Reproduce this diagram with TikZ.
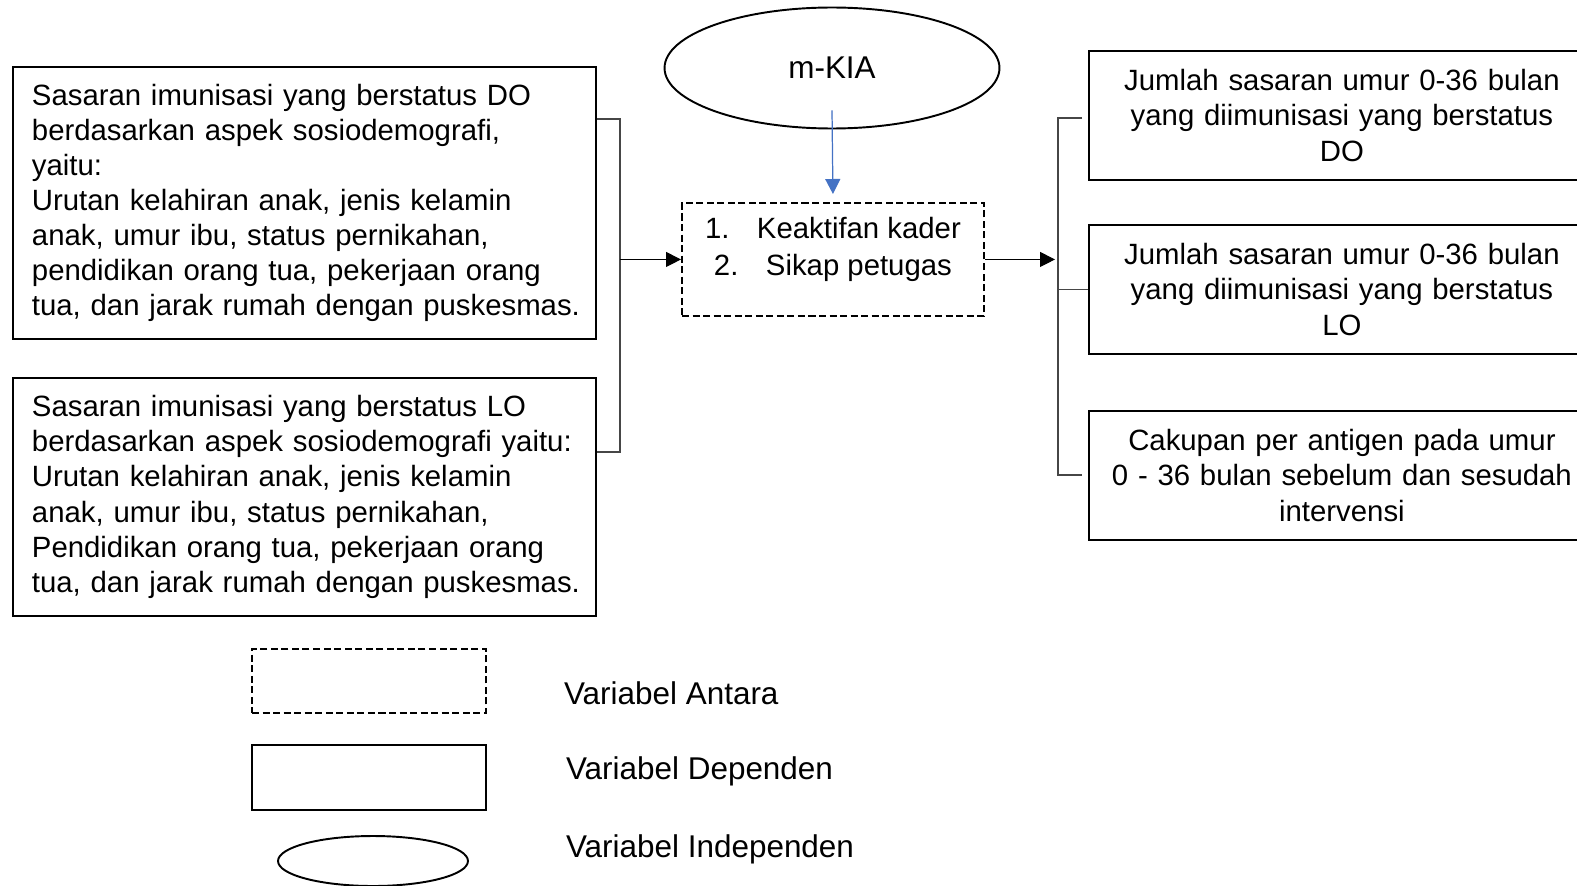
\documentclass[tikz,border=0pt]{standalone}
\usepackage{fontspec}
\setmainfont{Liberation Sans}
\usepackage{tikz}
\usetikzlibrary{shapes.geometric, arrows.meta, positioning, calc}
\usepackage{xcolor}
\definecolor{kiaBlue}{RGB}{68, 114, 196}
\definecolor{kiaGrey}{RGB}{70, 70, 70}

\begin{document}
\begin{tikzpicture}[
    x=0.02cm, y=-0.02cm,
    varbox/.style={
        rectangle,
        anchor=north west,
        draw=black,
        line width=1.1pt,
        font=\fontsize{16.7}{20}\selectfont
    },
    indepbox/.style={
        varbox,
        minimum width=11.66cm,
        text width=11.14cm,
        inner xsep=0.26cm,
        align=left
    },
    depbox/.style={
        varbox,
        minimum width=10.12cm,
        minimum height=2.58cm,
        text width=9.8cm,
        align=center
    },
    antarabox/.style={
        rectangle,
        draw=black,
        line width=1.1pt,
        dash pattern=on 4pt off 2pt
    },
    oval/.style={
        ellipse,
        draw=black,
        line width=1.1pt,
        font=\fontsize{17.9}{21}\selectfont
    },
    legendtext/.style={
        anchor=west,
        font=\fontsize{17.9}{21}\selectfont
    },
    arrow/.style={
        line width=0.6pt,
        -{Triangle[length=0.3cm, width=0.3cm]}
    },
    bracket/.style={
        draw=kiaGrey,
        line width=0.7pt
    }
]
\useasboundingbox (0,0) rectangle (1577,885);

% Left column - independent targets
\node[indepbox, minimum height=5.44cm] (do) at (12,66) {
    \hspace{0.12cm}Sasaran imunisasi yang berstatus DO\\
    \hspace{0.12cm}berdasarkan aspek sosiodemografi,\\
    \hspace{0.12cm}yaitu:\\
    \hspace{0.12cm}Urutan kelahiran anak, jenis kelamin\\
    \hspace{0.12cm}anak, umur ibu, status pernikahan,\\
    \hspace{0.12cm}pendidikan orang tua, pekerjaan orang\\
    \hspace{0.12cm}tua, dan jarak rumah dengan puskesmas.
};

\node[indepbox, minimum height=4.76cm] (lo) at (12,377) {
    \hspace{0.12cm}Sasaran imunisasi yang berstatus LO\\
    \hspace{0.12cm}berdasarkan aspek sosiodemografi yaitu:\\
    \hspace{0.12cm}Urutan kelahiran anak, jenis kelamin\\
    \hspace{0.12cm}anak, umur ibu, status pernikahan,\\
    \hspace{0.12cm}Pendidikan orang tua, pekerjaan orang\\
    \hspace{0.12cm}tua, dan jarak rumah dengan puskesmas.
};

% Middle - m-KIA and intervening variables
\node[oval, minimum width=6.7cm, minimum height=2.42cm] (mkia) at (832,68) {m-KIA};

\node[antarabox, anchor=north west, minimum width=6.04cm, minimum height=2.26cm] (antara) at (681,202) {};
\node[font=\fontsize{16.7}{20.8}\selectfont, align=center, yshift=0.2cm] (antaratext) at (antara.center) {
    1.\hspace{0.55cm}Keaktifan kader\\
    2.\hspace{0.55cm}Sikap petugas
};

% Right column - dependent outcomes
\node[depbox] (dep1) at (1088,50) {
    Jumlah sasaran umur 0-36 bulan\\
    yang diimunisasi yang berstatus\\
    DO
};
\node[depbox] (dep2) at (1088,224) {
    Jumlah sasaran umur 0-36 bulan\\
    yang diimunisasi yang berstatus\\
    LO
};
\node[depbox] (dep3) at (1088,410) {
    Cakupan per antigen pada umur\\
    0 - 36 bulan sebelum dan sesudah\\
    intervensi
};

% Connectors
\coordinate (lb1) at (620,119);
\coordinate (lb2) at (620,452);
\draw[bracket] (do.east |- lb1) -- (lb1) -- (lb2) -- (lo.east |- lb2);
\draw[arrow] (lb1 |- antara.west) -- (antara.west);

\draw[arrow, draw=kiaBlue, fill=kiaBlue, line width=0.7pt] ([yshift=0.38cm]mkia.south) -- ([yshift=0.16cm]antara.north);

\coordinate (rtop) at (1058,118);
\coordinate (rbot) at (1058,475);
\draw[arrow] (antara.east) -- ([xshift=-0.06cm]rtop |- antara.east);
\draw[bracket] ([xshift=-0.12cm]dep1.west |- rtop) -- (rtop) -- (rbot) -- ([xshift=-0.12cm]dep3.west |- rbot);
\draw[bracket] (rtop |- dep2.west) -- (dep2.west);

% Legend
\node[antarabox, anchor=north west, minimum width=4.68cm, minimum height=1.28cm] (legantara) at (251,648) {};
\node[varbox, minimum width=4.68cm, minimum height=1.3cm] (legdep) at (251,744) {};
\node[oval, minimum width=3.8cm, minimum height=1.0cm] (legindep) at (373,861) {};

\node[legendtext, right=1.42cm of legantara, yshift=-0.24cm] (labantara) {Variabel Antara};
\node[legendtext, right=1.46cm of legdep, yshift=0.13cm] (labdep) {Variabel Dependen};
\node[legendtext, right=1.46cm of legdep, yshift=-1.43cm] (labindep) {Variabel Independen};

\end{tikzpicture}
\end{document}
